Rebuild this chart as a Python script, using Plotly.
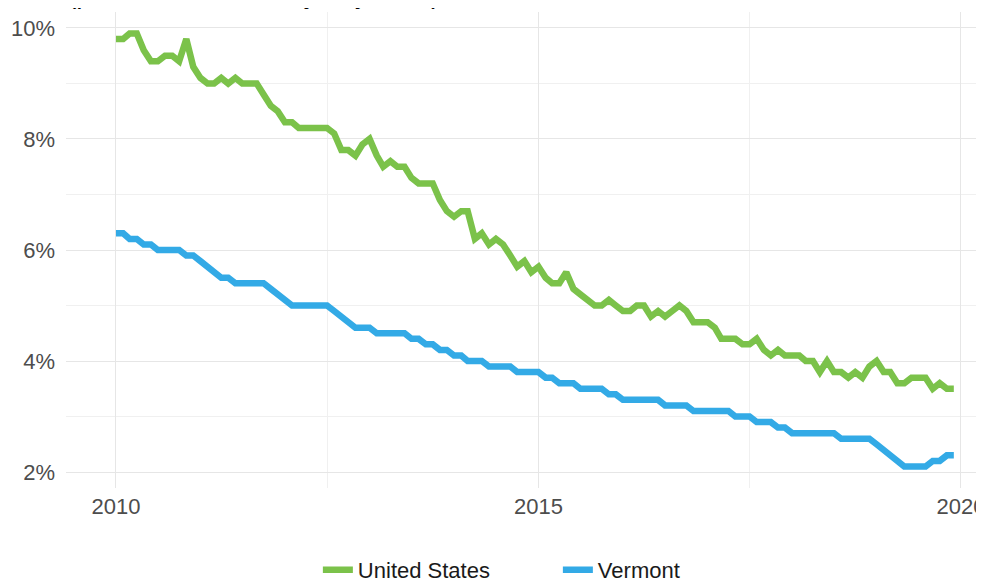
import pandas as pd
import plotly.graph_objects as go

# Monthly dates Jan 2010 - Dec 2019
months = pd.date_range("2010-01-01", "2019-12-01", freq="MS").strftime("%Y-%m-%d").tolist()

us_rate = [
    9.8, 9.8, 9.9, 9.9, 9.6, 9.4, 9.4, 9.5, 9.5, 9.4, 9.8, 9.3,   # 2010
    9.1, 9.0, 9.0, 9.1, 9.0, 9.1, 9.0, 9.0, 9.0, 8.8, 8.6, 8.5,   # 2011
    8.3, 8.3, 8.2, 8.2, 8.2, 8.2, 8.2, 8.1, 7.8, 7.8, 7.7, 7.9,   # 2012
    8.0, 7.7, 7.5, 7.6, 7.5, 7.5, 7.3, 7.2, 7.2, 7.2, 6.9, 6.7,   # 2013
    6.6, 6.7, 6.7, 6.2, 6.3, 6.1, 6.2, 6.1, 5.9, 5.7, 5.8, 5.6,   # 2014
    5.7, 5.5, 5.4, 5.4, 5.6, 5.3, 5.2, 5.1, 5.0, 5.0, 5.1, 5.0,   # 2015
    4.9, 4.9, 5.0, 5.0, 4.8, 4.9, 4.8, 4.9, 5.0, 4.9, 4.7, 4.7,   # 2016
    4.7, 4.6, 4.4, 4.4, 4.4, 4.3, 4.3, 4.4, 4.2, 4.1, 4.2, 4.1,   # 2017
    4.1, 4.1, 4.0, 4.0, 3.8, 4.0, 3.8, 3.8, 3.7, 3.8, 3.7, 3.9,   # 2018
    4.0, 3.8, 3.8, 3.6, 3.6, 3.7, 3.7, 3.7, 3.5, 3.6, 3.5, 3.5,   # 2019
]

vt_rate = [
    6.3, 6.3, 6.2, 6.2, 6.1, 6.1, 6.0, 6.0, 6.0, 6.0, 5.9, 5.9,   # 2010
    5.8, 5.7, 5.6, 5.5, 5.5, 5.4, 5.4, 5.4, 5.4, 5.4, 5.3, 5.2,   # 2011
    5.1, 5.0, 5.0, 5.0, 5.0, 5.0, 5.0, 4.9, 4.8, 4.7, 4.6, 4.6,   # 2012
    4.6, 4.5, 4.5, 4.5, 4.5, 4.5, 4.4, 4.4, 4.3, 4.3, 4.2, 4.2,   # 2013
    4.1, 4.1, 4.0, 4.0, 4.0, 3.9, 3.9, 3.9, 3.9, 3.8, 3.8, 3.8,   # 2014
    3.8, 3.7, 3.7, 3.6, 3.6, 3.6, 3.5, 3.5, 3.5, 3.5, 3.4, 3.4,   # 2015
    3.3, 3.3, 3.3, 3.3, 3.3, 3.3, 3.2, 3.2, 3.2, 3.2, 3.1, 3.1,   # 2016
    3.1, 3.1, 3.1, 3.1, 3.0, 3.0, 3.0, 2.9, 2.9, 2.9, 2.8, 2.8,   # 2017
    2.7, 2.7, 2.7, 2.7, 2.7, 2.7, 2.7, 2.6, 2.6, 2.6, 2.6, 2.6,   # 2018
    2.5, 2.4, 2.3, 2.2, 2.1, 2.1, 2.1, 2.1, 2.2, 2.2, 2.3, 2.3,   # 2019
]

series_names = ["United States", "Vermont"]
series_colors = ["#7BC24A", "#33AAE6"]

y_tick_vals = [2, 4, 6, 8, 10]
y_tick_text = ["2%", "4%", "6%", "8%", "10%"]
x_tick_vals = ["2010-01-01", "2015-01-01", "2020-01-01"]
x_tick_text = ["2010", "2015", "2020"]

subtitle = "(percent, seasonally adjusted)"

fig = go.Figure()
for name, vals, col in zip(series_names, [us_rate, vt_rate], series_colors):
    fig.add_trace(go.Scatter(
        x=months, y=vals, mode="lines", name=name,
        line=dict(color=col, width=6.5),
    ))

grid_major = "#E6E6E6"
grid_minor = "#F0F0F0"
tick_font = dict(family="Liberation Sans, Arial, sans-serif", size=22, color="#4D4D4D")

fig.update_layout(
    width=984, height=580,
    margin=dict(l=58, r=0, t=4, b=100, autoexpand=False),
    paper_bgcolor="white", plot_bgcolor="white",
    showlegend=True,
    legend=dict(
        orientation="h", x=0.272, xanchor="left", y=-0.128, yanchor="top",
        font=dict(family="Liberation Sans, Arial, sans-serif", size=22, color="#1A1A1A"),
        itemwidth=30,
        entrywidth=195, entrywidthmode="pixels", bgcolor="rgba(0,0,0,0)",
    ),
    xaxis=dict(
        type="date", range=["2009-05-30", "2020-05-14"],
        tickvals=x_tick_vals, ticktext=x_tick_text,
        showgrid=True, gridcolor=grid_major, gridwidth=1,
        zeroline=False, showline=False, ticks="", automargin=False,
        tickfont=tick_font, ticklabelstandoff=3,
        minor=dict(tickvals=["2012-07-01", "2017-07-01"], showgrid=True,
                   gridcolor=grid_minor, gridwidth=1),
    ),
    yaxis=dict(
        range=[1.712, 10.288],
        tickvals=y_tick_vals, ticktext=y_tick_text,
        showgrid=True, gridcolor=grid_major, gridwidth=1,
        zeroline=False, showline=False, ticks="", automargin=False,
        tickfont=tick_font, ticklabelstandoff=10,
        minor=dict(tickvals=[3, 5, 7, 9], showgrid=True,
                   gridcolor=grid_minor, gridwidth=1),
    ),
    annotations=[dict(
        text=subtitle, xref="paper", yref="paper",
        x=-0.001, xanchor="left", y=1.0021, yanchor="bottom",
        showarrow=False,
        font=dict(family="Liberation Sans, Arial, sans-serif", size=28, color="#000000"),
    )],
)

fig.write_html("out.html")
